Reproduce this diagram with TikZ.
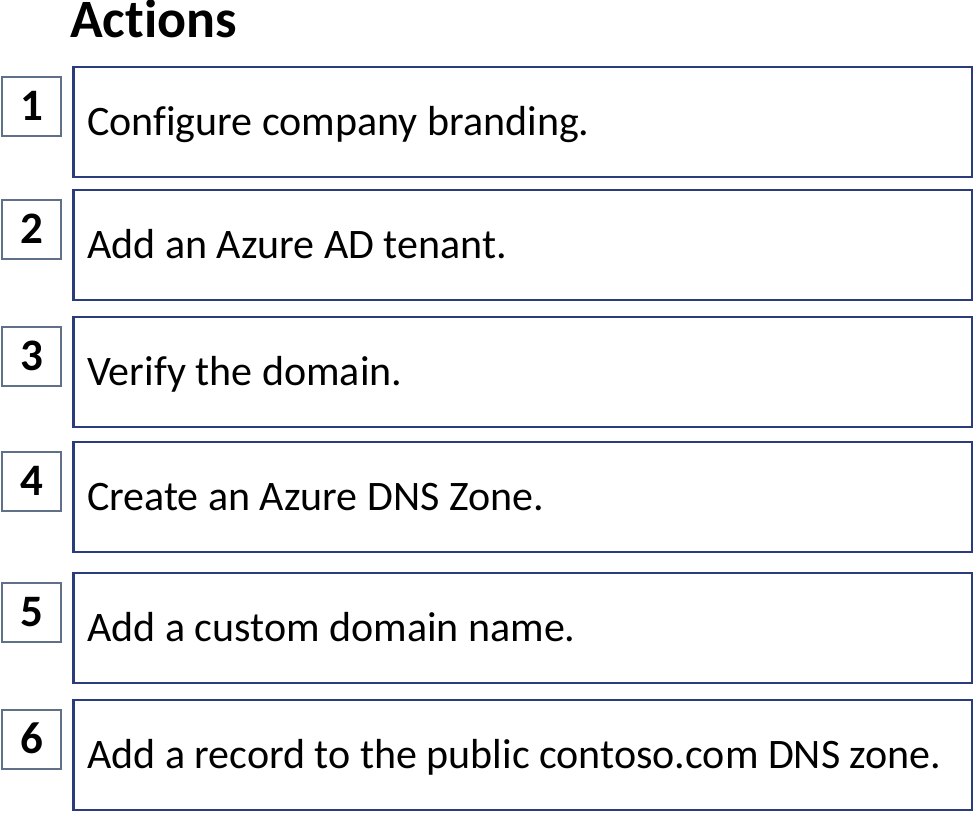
\documentclass[tikz,border=0pt]{standalone}
\usepackage{fontspec}
\setmainfont{Carlito}[Ligatures=NoCommon]
\definecolor{bigblue}{HTML}{2A3C7C}
\definecolor{smallgrey}{HTML}{5F7088}
\begin{document}
\begin{tikzpicture}[x=1pt,y=-1pt,
  bigbox/.style={draw=bigblue,line width=2.2pt},
  numbox/.style={draw=smallgrey,line width=2.2pt},
  actiontext/.style={anchor=base west,inner sep=0pt,font=\fontsize{42}{48}\selectfont},
  numtext/.style={anchor=base,inner sep=0pt,font=\fontsize{45}{50}\selectfont\bfseries}]
\useasboundingbox[fill=white] (0,0) rectangle (974,812);
\node[anchor=base west,inner sep=0pt,font=\fontsize{54}{58}\selectfont\bfseries] (title) at (70,37) {Actions};
\foreach \i/\t/\txt in {1/67/Configure company branding.,
                        2/190/Add an Azure AD tenant.,
                        3/317/Verify the domain.,
                        4/442/Create an Azure DNS Zone.,
                        5/573/Add a custom domain name.,
                        6/700/Add a record to the public contoso.com DNS zone.}{
  \draw[bigbox] (73.5,\t) rectangle (972,\t+110);
  \draw[numbox] (2,\t+10) rectangle (61,\t+69);
  \node[actiontext] (a\i) at (87,\t+68) {\txt};
  \node[numtext] (n\i) at (32,\t+53) {\i};
}
\end{tikzpicture}
\end{document}
